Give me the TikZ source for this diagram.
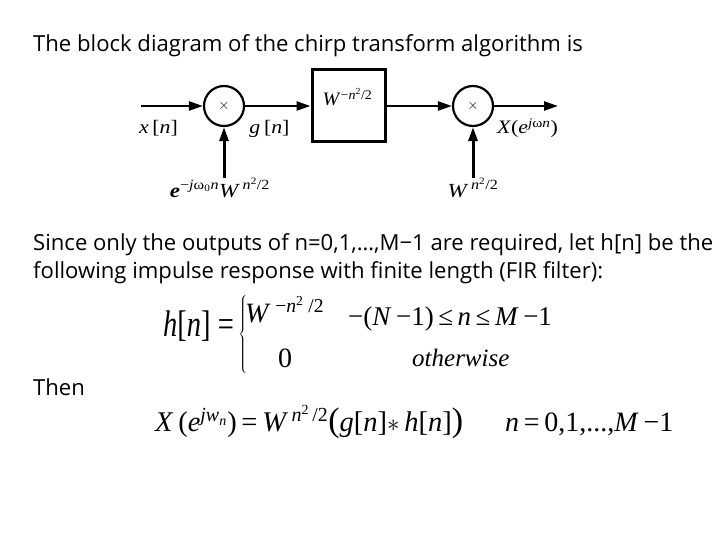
\documentclass[tikz,border=0pt]{standalone}
\usepackage{fontspec}
\setmainfont{Open Sans}
\newfontfamily\tms{Liberation Serif}
\usetikzlibrary{arrows.meta}
\tikzset{
  sig/.style={line width=2.4pt,-{Triangle[length=14pt,width=9pt]}},
  mult/.style={circle,draw,line width=2.2pt,minimum size=40pt,inner sep=0pt},
  blk/.style={draw,line width=3pt,minimum width=73pt,minimum height=72pt,inner sep=0pt},
  lbl/.style={font=\tms\fontsize{19}{21}\selectfont,inner sep=0pt,anchor=base},
  txt/.style={font=\fontsize{22.1}{26}\selectfont,inner sep=0pt,anchor=base west},
  eq/.style={font=\tms\fontsize{27}{30}\selectfont,inner sep=0pt,anchor=base west}
}
\newcommand{\wide}[1]{\scalebox{1.15}[1]{#1}}
\begin{document}
\begin{tikzpicture}[x=1pt,y=-1pt]
\useasboundingbox (0,0) rectangle (720,540);
% text
\node[txt] (t1) at (33,52) {The block diagram of the chirp transform algorithm is};
\node[txt] (t2) at (33,250) {Since only the outputs of n=0,1,\dots,M\textminus1 are required, let h[n] be the};
\node[txt] (t3) at (33,278) {following impulse response with finite length (FIR filter):};
\node[txt] (t4) at (33,395) {Then};
% block diagram
\coordinate (in) at (141,106);
\node[mult] (m1) at (224,106) {\Large$\times$};
\node[blk] (h) at (348.5,106) {};
\node[lbl] (hl) at (347.5,106) {\scalebox{1.05}[1]{\textit{W}\textsuperscript{\textminus\textit{n}\textsuperscript{2}/2}}};
\node[mult] (m2) at (473,106) {\Large$\times$};
\coordinate (out) at (558,106);
\coordinate (c1) at (224,178);
\coordinate (c2) at (473,178);
\draw[sig] (in) -- (m1);
\draw[sig] (m1) -- (h);
\draw[sig] (h) -- (m2);
\draw[sig] (m2) -- (out);
\draw[sig,line width=3pt] (c1) -- (m1);
\draw[sig,line width=3pt] (c2) -- (m2);
\node[lbl] (lx) at (158.5,134) {\wide{\textit{x}\,[\textit{n}]}};
\node[lbl] (lg) at (269.5,134) {\wide{\textit{g}\,[\textit{n}]}};
\node[lbl] (lX) at (527.5,134) {\wide{\textit{X}(\textit{e}\textsuperscript{\textit{j}ω\textit{n}})}};
\node[lbl,font=\tms\fontsize{20}{22}\selectfont] (le) at (220,197) {\wide{\textbf{\textit{e}}\textsuperscript{\textminus\textit{j}ω\textsubscript{0}\textit{n}}\textit{W}\textsuperscript{\,\textit{n}\textsuperscript{2}/2}}};
\node[lbl,font=\tms\fontsize{20}{22}\selectfont] (lw) at (473,197) {\wide{\textit{W}\textsuperscript{\,\textit{n}\textsuperscript{2}/2}}};
% h[n] definition
\node[eq,font=\tms\fontsize{28.5}{30}\selectfont] (hn) at (163,336) {\scalebox{1}[1.3]{\textit{h}[\textit{n}] =}};
\node[inner sep=0pt] (br) at (243.5,335) {$\left\{\vrule height 38pt depth 38pt width 0pt\right.$};
\node[eq,font=\tms\fontsize{28}{30}\selectfont] (r1a) at (245,322) {\textit{W}\,\textsuperscript{\textminus\textit{n}\textsuperscript{2} /2}};
\node[eq] (r1b) at (348,325) {\textminus(\textit{N}\,\textminus1)\,≤\,\textit{n}\,≤\,\textit{M}\,\textminus1};
\node[eq,font=\tms\fontsize{28}{30}\selectfont] (r2a) at (278,367) {0};
\node[eq,font=\tms\fontsize{25}{30}\selectfont] (r2b) at (412,366) {\textit{otherwise}};
% final equation
\node[eq,font=\tms\fontsize{28.5}{30}\selectfont] (xe) at (155,431) {\textit{X}\,(\textit{e}\textsuperscript{\textit{jw}\textsubscript{\textit{n}}})\,=\,\textit{W}\textsuperscript{\,\textit{n}\textsuperscript{2}\,/2}{\fontsize{34}{36}\selectfont(}\textit{g}[\textit{n}]$*$\,\textit{h}[\textit{n}]{\fontsize{34}{36}\selectfont)}};
\node[eq,font=\tms\fontsize{28}{30}\selectfont] (nr) at (505,431) {\textit{n}\,=\,0,1,...,\textit{M}\,\textminus1};
\end{tikzpicture}
\end{document}
